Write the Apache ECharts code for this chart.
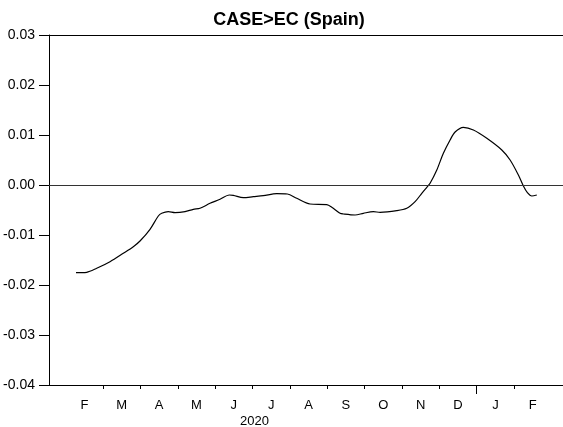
<!DOCTYPE html>
<html>
<head>
<meta charset="utf-8">
<script src="https://cdn.jsdelivr.net/npm/echarts@6/dist/echarts.min.js"></script>
<style>
html,body{margin:0;padding:0;background:#fff;}
#chart{width:563px;height:427px;}
</style>
</head>
<body>
<div id="chart"></div>
<script>
// Month position (0 = start of Feb 2020, 1 month per unit)
var monthPos = [0.274,0.561,0.829,1.185,1.541,1.809,1.988,2.256,2.478,2.569,2.746,2.925,3.193,3.415,3.594,3.862,4.130,4.379,4.486,4.754,5.021,5.289,5.648,5.932,6.183,6.540,6.987,7.121,7.343,7.431,7.744,7.967,8.234,8.414,8.861,9.129,9.351,9.530,9.664,9.752,9.932,10.108,10.288,10.422,10.644,10.912,11.271,11.672,11.894,12.116,12.250,12.357,12.475,12.609];
var values = [-0.01754,-0.01746,-0.01666,-0.01534,-0.01366,-0.01234,-0.0112,-0.00886,-0.0062,-0.00566,-0.00534,-0.00554,-0.00534,-0.00486,-0.00466,-0.00366,-0.00286,-0.0020,-0.00206,-0.00254,-0.00234,-0.00214,-0.00174,-0.0018,-0.00266,-0.0038,-0.00394,-0.00446,-0.00566,-0.0058,-0.0060,-0.00566,-0.00534,-0.00546,-0.00514,-0.00466,-0.00334,-0.00166,-0.00046,0.00034,0.0030,0.00634,0.0090,0.0106,0.01154,0.0110,0.00934,0.0070,0.0050,0.0020,-0.0002,-0.00154,-0.0022,-0.0020];
var monthLabels = ["F","M","A","M","J","J","A","S","O","N","D","J","F"];
var yearLabel = "2020";
var titleText = "CASE>EC (Spain)";

var labelPos = monthLabels.map(function(_, i){ return i + 0.5; });
var tickPos = [];
for (var i = 1; i < monthLabels.length; i++) tickPos.push(i);
var yearTick = [11];

var FONT = '"Liberation Sans", Arial, sans-serif';
var chart = echarts.init(document.getElementById('chart'), null, {renderer:'canvas'});
var xMin = -0.448, xMax = 13.31;
chart.setOption({
  animation: false,
  backgroundColor: '#fff',
  title: {
    text: titleText, left: 284, top: 6, textAlign: 'center',
    textStyle: {fontFamily: FONT, fontSize: 18, fontWeight: 'bold', color: '#000'}
  },
  grid: {left: 49, right: 0, top: 35, bottom: 42, containLabel: false},
  xAxis: [
    {
      type: 'value', min: xMin, max: xMax, position: 'bottom', offset: 0,
      axisLine: {show: true, onZero: false, lineStyle: {color: '#000', width: 1}},
      axisTick: {show: true, customValues: tickPos, length: 4, lineStyle: {color: '#000'}},
      axisLabel: {show: true, customValues: labelPos, margin: 14,
        fontFamily: FONT, fontSize: 13, color: '#000',
        formatter: function(v){ var k = Math.round(v - 0.5); return monthLabels[k] || ''; }},
      splitLine: {show: false}
    },
    {
      type: 'value', min: xMin, max: xMax, position: 'top', offset: 0,
      axisLine: {show: true, onZero: false, lineStyle: {color: '#000', width: 1}},
      axisTick: {show: false}, axisLabel: {show: false}, splitLine: {show: false}
    },
    {
      type: 'value', min: xMin, max: xMax, position: 'bottom', offset: 0,
      axisLine: {show: false, onZero: false},
      axisTick: {show: true, customValues: yearTick, length: 9, lineStyle: {color: '#000'}},
      axisLabel: {show: false}, splitLine: {show: false}
    }
  ],
  yAxis: {
    type: 'value', min: -0.04, max: 0.03, interval: 0.01,
    axisLine: {show: true, onZero: false, lineStyle: {color: '#000', width: 1}},
    axisTick: {show: true, inside: false, length: 10, lineStyle: {color: '#000'}},
    axisLabel: {margin: 14, fontFamily: FONT, fontSize: 14, color: '#000',
      formatter: function(v){ var s = (Math.round(v*100)/100).toFixed(2); return s === '-0.00' ? '0.00' : s; }},
    splitLine: {show: false}
  },
  graphic: [{
    type: 'text', left: 254 - 14, top: 415,
    style: {text: yearLabel, font: '13px ' + FONT, fill: '#000'}
  }],
  series: [{
    type: 'line',
    xAxisIndex: 0,
    data: monthPos.map(function(x, i){ return [x, values[i]]; }),
    showSymbol: false, symbol: 'none',
    smooth: 0.3,
    lineStyle: {color: '#000', width: 1.2},
    markLine: {
      silent: true, symbol: ['none','none'], label: {show: false},
      lineStyle: {color: '#333', width: 1, type: 'solid'},
      data: [{yAxis: 0}]
    }
  }]
});
</script>
</body>
</html>
